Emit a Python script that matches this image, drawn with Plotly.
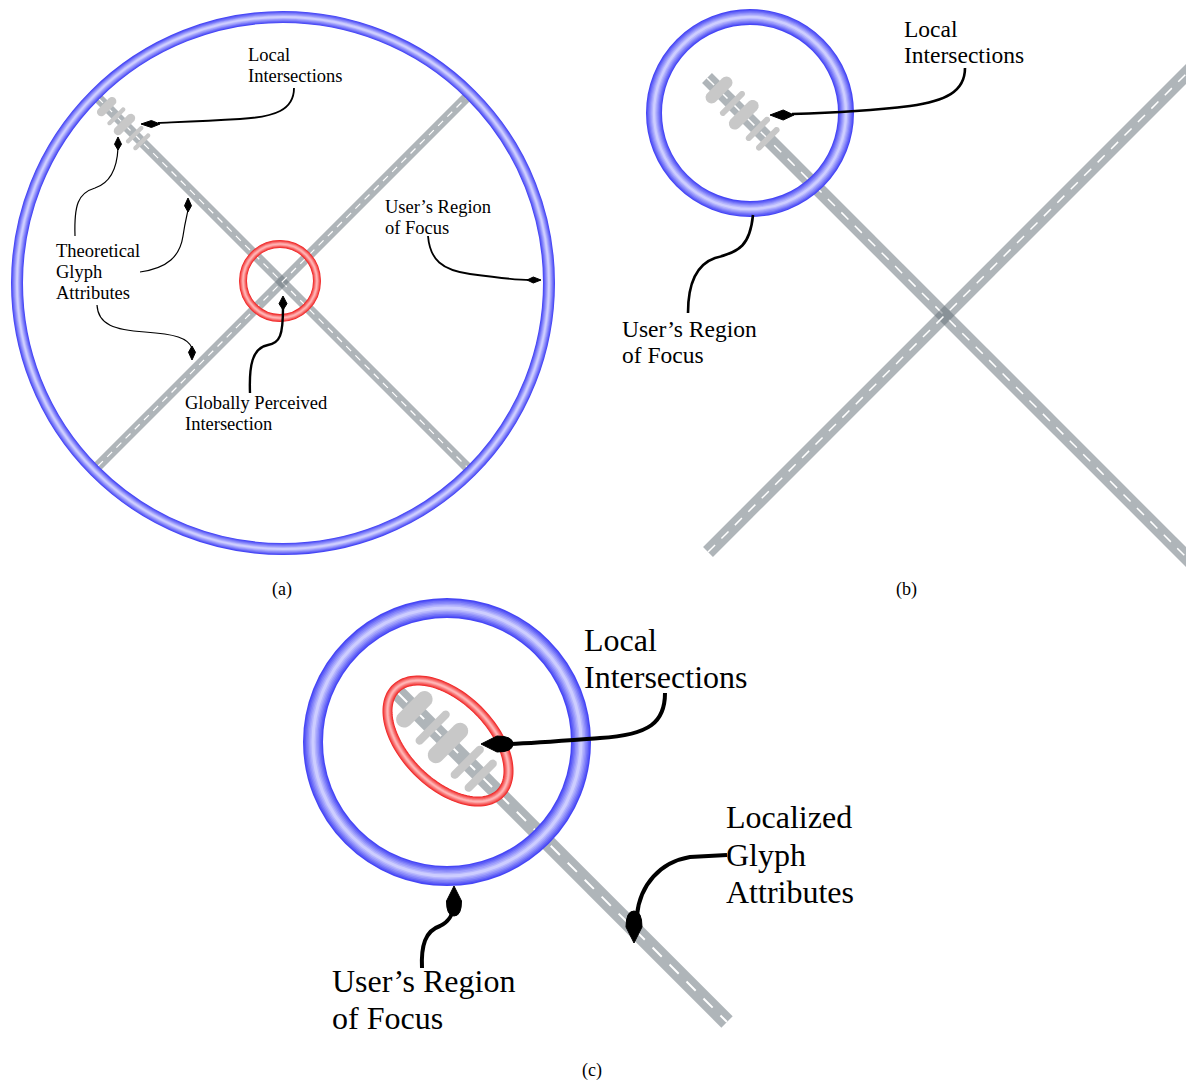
import numpy as np
import plotly.graph_objects as go

W, H = 1186, 1080
SERIF = "Liberation Serif, Times New Roman, serif"

# ---------------- panel captions ----------------
caption_text = ["(a)", "(b)", "(c)"]
caption_x = [282, 906, 592]
caption_base = [595, 595, 1076]
caption_size = 18

# ---------------- blue "region of focus" rings ----------------
blue_cx = [283, 750, 447]
blue_cy = [283, 113, 742]
blue_r = [266, 96, 134]
blue_w = [12, 16, 20]

# ---------------- red rings ----------------
red_cx, red_cy, red_r, red_w = 280, 281, 37, 8               # (a) circle
ell_cx, ell_cy, ell_a, ell_b, ell_ang, ell_w = 448, 741, 74, 43, 45, 10  # (c) ellipse

# ---------------- roads ----------------
road_x0 = [98, 98, 707, 708, 398]
road_y0 = [98, 466, 78, 552, 693]
road_x1 = [468, 468, 1195, 1195, 727]
road_y1 = [468, 96, 566, 65, 1022]
road_w = [10, 10, 14, 14, 16]
road_dash = ["7px,6px", "7px,6px", "10px,9px", "10px,9px", "13px,11px"]
road_dash_w = [1.2, 1.2, 1.5, 1.5, 2.0]

# ---------------- glyph attribute bars (base units, panel b scale) ----------------
bar_dist = [17, 36, 52, 72, 86]
bar_len = [33, 33, 37, 32, 31]
bar_thick = [12, 6, 12, 6, 6]
glyph_start_x = [98, 707, 398]
glyph_start_y = [98, 78, 693]
glyph_scale = [0.72, 1.0, 1.36]

# ---------------- callout curves ----------------
curve_paths = [
    "M 294 88 C 294 110 275 117 240 119 C 205 121 180 122 158 123",
    "M 75 236 C 74 205 78 193 95 188 C 110 183 117 170 118 148",
    "M 140 272 C 168 268 180 256 183 236 C 185 222 187 215 188 210",
    "M 97 305 C 98 325 115 330 145 332 C 175 334 188 338 192 348",
    "M 250 393 C 249 366 252 348 268 345 C 280 343 283 335 283 308",
    "M 428 236 C 430 260 442 270 470 274 C 500 278 515 280 530 280",
    "M 965 68 C 965 92 945 101 910 106 C 870 111 830 113 792 114",
    "M 688 313 C 688 285 695 265 715 258 C 740 252 750 245 753 215",
    "M 665 693 C 665 722 650 735 600 738 C 560 741 535 743 510 744",
    "M 727 855 L 690 857 C 660 862 640 885 637 915",
    "M 422 968 C 421 946 425 931 440 926 C 450 921 453 914 454 905",
]
curve_w = [1.8, 1.2, 1.2, 1.2, 2.4, 1.8, 2.6, 2.6, 4, 4, 4]

# arrowheads: tip x, tip y, direction (dx, dy), length, width, rounded back?
arrow_x = [141, 118, 188, 192, 283, 541, 770, 481, 634, 454]
arrow_y = [124, 137, 198, 360, 296, 280, 115, 744, 943, 886]
arrow_dx = [-1, 0, 0, 0, 0, 1, -1, -1, 0, 0]
arrow_dy = [0, -1, -1, 1, -1, 0, 0, 0, 1, -1]
arrow_len = [19, 13, 14, 14, 14, 14, 24, 32, 32, 30]
arrow_wid = [7, 7, 7, 7, 8, 6, 10, 16, 16, 15]
arrow_round = [False, False, False, False, False, False, False, True, True, True]

# ---------------- text labels ----------------
label_text = ["Local", "Intersections",
              "Theoretical", "Glyph", "Attributes",
              "Globally Perceived", "Intersection",
              "User\u2019s Region", "of Focus",
              "Local", "Intersections",
              "User\u2019s Region", "of Focus",
              "Local", "Intersections",
              "Localized", "Glyph", "Attributes",
              "User\u2019s Region", "of Focus"]
label_x = [246, 246, 54, 54, 54, 183, 183, 383, 383,
           902, 902, 620, 620,
           582, 582, 724, 724, 724, 330, 330]
label_base = [61, 82, 257, 278, 299, 409, 430, 213, 234,
              36, 62, 336, 362,
              650, 687, 827, 865, 902, 991, 1028]
label_size = [18.5] * 9 + [23.5] * 4 + [32] * 7


def lerp_color(c1, c2, t):
    return "rgb(%d,%d,%d)" % tuple(int(round(a + (b - a) * t)) for a, b in zip(c1, c2))


shapes = []


def add_ring(cx, cy, r, w, edge, center, n=7):
    for i in range(n):
        t = i / (n - 1)
        lw = w * (1 - t * 0.85)
        shapes.append(dict(type="circle", xref="x", yref="y",
                           x0=cx - r, x1=cx + r, y0=cy - r, y1=cy + r,
                           line=dict(color=lerp_color(edge, center, t), width=lw),
                           fillcolor="rgba(0,0,0,0)"))


def add_ellipse_ring(cx, cy, a, b, ang, w, edge, center, n=7):
    th = np.linspace(0, 2 * np.pi, 120)
    ca, sa = np.cos(np.radians(ang)), np.sin(np.radians(ang))
    xs = cx + a * np.cos(th) * ca - b * np.sin(th) * sa
    ys = cy + a * np.cos(th) * sa + b * np.sin(th) * ca
    path = "M " + " L ".join("%.2f %.2f" % (x, y) for x, y in zip(xs, ys)) + " Z"
    for i in range(n):
        t = i / (n - 1)
        lw = w * (1 - t * 0.85)
        shapes.append(dict(type="path", xref="x", yref="y", path=path,
                           line=dict(color=lerp_color(edge, center, t), width=lw),
                           fillcolor="rgba(0,0,0,0)"))


def capsule_path(cx, cy, ux, uy, length, thick):
    nx, ny = -uy, ux
    r = thick / 2
    h = max(length / 2 - r, 0)
    pts = []
    for phi in np.linspace(-np.pi / 2, np.pi / 2, 12):
        ex, ey = cx + ux * h, cy + uy * h
        pts.append((ex + r * (np.cos(phi) * ux + np.sin(phi) * nx),
                    ey + r * (np.cos(phi) * uy + np.sin(phi) * ny)))
    for phi in np.linspace(np.pi / 2, 3 * np.pi / 2, 12):
        ex, ey = cx - ux * h, cy - uy * h
        pts.append((ex + r * (np.cos(phi) * ux + np.sin(phi) * nx),
                    ey + r * (np.cos(phi) * uy + np.sin(phi) * ny)))
    return "M " + " L ".join("%.2f %.2f" % p for p in pts) + " Z"


# roads (semi transparent so the crossing darkens)
for i in range(len(road_x0)):
    shapes.append(dict(type="line", xref="x", yref="y",
                       x0=road_x0[i], y0=road_y0[i], x1=road_x1[i], y1=road_y1[i],
                       line=dict(color="rgb(104,115,122)", width=road_w[i]), opacity=0.52))
    shapes.append(dict(type="line", xref="x", yref="y",
                       x0=road_x0[i], y0=road_y0[i], x1=road_x1[i], y1=road_y1[i],
                       line=dict(color="white", width=road_dash_w[i], dash=road_dash[i])))

# glyph attribute bars
s2 = np.sqrt(0.5)
for p in range(3):
    sx, sy, sc = glyph_start_x[p], glyph_start_y[p], glyph_scale[p]
    for d, L, T in zip(bar_dist, bar_len, bar_thick):
        cx = sx + d * sc * s2
        cy = sy + d * sc * s2
        shapes.append(dict(type="path", xref="x", yref="y",
                           path=capsule_path(cx, cy, s2, -s2, L * sc, T * sc),
                           fillcolor="rgb(200,200,200)", line=dict(width=0)))

# red rings
add_ring(red_cx, red_cy, red_r, red_w, (240, 40, 40), (255, 180, 180))
add_ellipse_ring(ell_cx, ell_cy, ell_a, ell_b, ell_ang, ell_w, (240, 40, 40), (255, 180, 180))

# blue rings
for i in range(3):
    add_ring(blue_cx[i], blue_cy[i], blue_r[i], blue_w[i], (70, 70, 245), (205, 205, 255))

# callout curves
for pth, lw in zip(curve_paths, curve_w):
    shapes.append(dict(type="path", xref="x", yref="y", path=pth,
                       line=dict(color="black", width=lw), fillcolor="rgba(0,0,0,0)"))

# arrowheads
for i in range(len(arrow_x)):
    tx, ty = arrow_x[i], arrow_y[i]
    dx, dy = arrow_dx[i], arrow_dy[i]
    L, Wd = arrow_len[i], arrow_wid[i]
    px, py = -dy, dx
    bx, by = tx - dx * L, ty - dy * L
    if arrow_round[i]:
        mx, my = tx - dx * L * 0.5, ty - dy * L * 0.5
        path = ("M %.1f %.1f L %.1f %.1f Q %.1f %.1f %.1f %.1f Q %.1f %.1f %.1f %.1f Z" % (
            tx, ty,
            mx + px * Wd / 2, my + py * Wd / 2,
            bx + px * Wd / 2, by + py * Wd / 2, bx, by,
            bx - px * Wd / 2, by - py * Wd / 2,
            mx - px * Wd / 2, my - py * Wd / 2))
    else:
        mx, my = tx - dx * L * 0.55, ty - dy * L * 0.55
        path = ("M %.1f %.1f L %.1f %.1f L %.1f %.1f L %.1f %.1f Z" % (
            tx, ty, mx + px * Wd / 2, my + py * Wd / 2, bx, by,
            mx - px * Wd / 2, my - py * Wd / 2))
    shapes.append(dict(type="path", xref="x", yref="y", path=path,
                       fillcolor="black", line=dict(color="black", width=1)))

annotations = []
for t, x, b, s in zip(label_text, label_x, label_base, label_size):
    annotations.append(dict(x=x, y=b - 0.3 * s, xref="x", yref="y", text=t,
                            showarrow=False, xanchor="left", yanchor="middle",
                            font=dict(family=SERIF, size=s, color="black")))
for t, x, b in zip(caption_text, caption_x, caption_base):
    annotations.append(dict(x=x, y=b - 0.3 * caption_size, xref="x", yref="y", text=t,
                            showarrow=False, xanchor="center", yanchor="middle",
                            font=dict(family=SERIF, size=caption_size, color="black")))

fig = go.Figure()
fig.update_layout(
    width=W, height=H,
    margin=dict(l=0, r=0, t=0, b=0),
    paper_bgcolor="white", plot_bgcolor="white",
    xaxis=dict(range=[0, W], visible=False, fixedrange=True),
    yaxis=dict(range=[H, 0], visible=False, fixedrange=True),
    shapes=shapes, annotations=annotations, showlegend=False,
)
fig.write_html("out.html", config={"displayModeBar": False},
               post_script="document.body.style.margin='0';document.body.style.overflow='hidden';")
